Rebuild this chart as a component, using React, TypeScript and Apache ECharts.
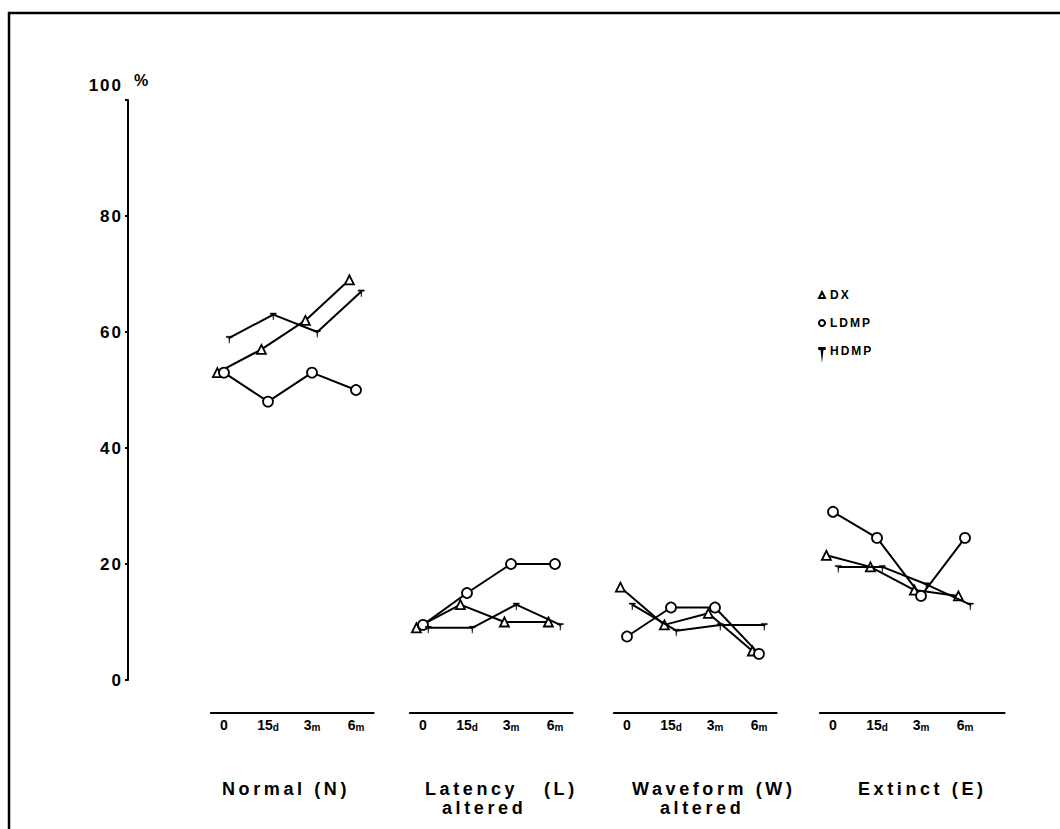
import React, { useEffect, useRef } from "react";
import * as echarts from "echarts";

// ---------- data ----------
const timeLabels = ["0", "15d", "3m", "6m"];
const yTickValues = [0, 20, 40, 60, 80, 100];
const seriesNames = ["DX", "LDMP", "HDMP"];
const panelTitles = ["Normal (N)", "Latency   (L)", "Waveform (W)", "Extinct (E)"];
const panelSubtitles = ["", "altered", "altered", ""];

// x positions in time-step units (0 = "0", 3 = "6m"); the series are slightly staggered
const dxX = [-0.15, 0.85, 1.85, 2.85];
const ldmpX = [0, 1, 2, 3];
const hdmpX = [0.12, 1.12, 2.12, 3.12];

const normalDX = [53, 57, 62, 69];
const normalLDMP = [53, 48, 53, 50];
const normalHDMP = [59, 63, 60, 67];
const latencyDX = [9, 13, 10, 10];
const latencyLDMP = [9.5, 15, 20, 20];
const latencyHDMP = [9, 9, 13, 9.5];
const waveformDX = [16, 9.5, 11.5, 5];
const waveformLDMP = [7.5, 12.5, 12.5, 4.5];
const waveformHDMP = [13, 8.5, 9.5, 9.5];
const extinctDX = [21.5, 19.5, 15.5, 14.5];
const extinctLDMP = [29, 24.5, 14.5, 24.5];
const extinctHDMP = [19.5, 19.5, 16.5, 13];

// ---------- layout ----------
const PLOT_TOP = 100;
const PLOT_H = 580;
const UNIT = 44;
const X_MIN = -0.3;
const panelOrigin = [224, 423, 627, 833];
const panelMax = [3.4, 3.4, 3.4, 3.9];
const titleLeft = [222, 425, 632, 858];
const subLeft = [0, 442, 660, 0];

const PLAIN = "'Liberation Sans', sans-serif";
const SPACED = "'Liberation Sans', Helvetica, sans-serif";
const TITLE = "'Liberation Sans', Arial, sans-serif";

const HDMP_SYMBOL = "path://M0,0 L10,0 L10,2 L6,2 L5,11 L4,2 L0,2 Z";

const panelData = [
  [normalDX, normalLDMP, normalHDMP],
  [latencyDX, latencyLDMP, latencyHDMP],
  [waveformDX, waveformLDMP, waveformHDMP],
  [extinctDX, extinctLDMP, extinctHDMP],
];
const seriesX = [dxX, ldmpX, hdmpX];

function fmtTime(label: string) {
  return label.replace(/([dm])$/, "{u|$1}");
}

export default function App() {
  const ref = useRef<HTMLDivElement>(null);

  useEffect(() => {
    if (!ref.current) return;
    const chart = echarts.init(ref.current, undefined, { renderer: "svg" });

    const grids: any[] = [];
    const xAxes: any[] = [];
    const yAxes: any[] = [];
    const series: any[] = [];

    panelOrigin.forEach((origin, i) => {
      const left = origin + X_MIN * UNIT;
      const width = (panelMax[i] - X_MIN) * UNIT;
      grids.push({ left, top: PLOT_TOP, width, height: PLOT_H });
      xAxes.push({
        type: "value",
        gridIndex: i,
        min: X_MIN,
        max: panelMax[i],
        position: "bottom",
        offset: 33,
        axisLine: { show: true, onZero: false, lineStyle: { color: "#000", width: 2 } },
        axisTick: { show: false },
        splitLine: { show: false },
        axisLabel: {
          customValues: [0, 1, 2, 3],
          formatter: (v: number) => fmtTime(timeLabels[Math.round(v)]),
          color: "#000",
          fontSize: 14,
          fontWeight: "bold",
          fontFamily: PLAIN,
          margin: 5,
          rich: {
            u: { fontSize: 10, fontWeight: "bold", fontFamily: PLAIN, color: "#000", verticalAlign: "bottom" },
          },
        },
      });
      yAxes.push({ type: "value", gridIndex: i, min: 0, max: 100, show: false });

      seriesNames.forEach((name, s) => {
        const vals = panelData[i][s];
        const xs = seriesX[s];
        const isH = s === 2;
        series.push({
          name,
          type: "line",
          xAxisIndex: i,
          yAxisIndex: i,
          data: vals.map((v, k) => [xs[k], v]),
          symbol: s === 0 ? "triangle" : s === 1 ? "circle" : HDMP_SYMBOL,
          symbolSize: s === 0 ? 9 : s === 1 ? 10 : [6, 7],
          symbolOffset: isH ? [0, 2] : [0, 0],
          showAllSymbol: true,
          lineStyle: { color: "#000", width: 2 },
          itemStyle: {
            color: isH ? "#000" : "#fff",
            borderColor: "#000",
            borderWidth: isH ? 0.5 : 1.8,
          },
          z: 3 + s,
        });
      });
    });

    // main y axis
    grids.push({ left: 128, top: PLOT_TOP, width: 20, height: PLOT_H });
    xAxes.push({ type: "value", gridIndex: 4, min: 0, max: 1, show: false });
    yAxes.push({
      type: "value",
      gridIndex: 4,
      min: yTickValues[0],
      max: yTickValues[yTickValues.length - 1],
      interval: yTickValues[1] - yTickValues[0],
      position: "left",
      axisLine: { show: true, lineStyle: { color: "#000", width: 2 } },
      axisTick: { show: true, length: 3, lineStyle: { color: "#000", width: 2 } },
      splitLine: { show: false },
      axisLabel: {
        color: "#000",
        fontSize: 17,
        fontWeight: "bold",
        fontFamily: SPACED,
        margin: 5,
        formatter: (v: number) => (v === 100 ? "{top|100}" : String(v)),
        rich: {
          top: { fontSize: 17, fontWeight: "bold", fontFamily: SPACED, color: "#000", padding: [0, 0, 30, 0] },
        },
      },
      name: "%",
      nameLocation: "end",
      nameGap: 20,
      nameTextStyle: {
        color: "#000",
        fontSize: 16,
        fontWeight: "bold",
        fontFamily: SPACED,
        align: "left",
        verticalAlign: "middle",
        padding: [0, 0, 0, 6],
      },
    });

    const graphic: any[] = [
      {
        type: "rect",
        silent: true,
        shape: { x: 9, y: 13, width: 1200, height: 1000 },
        style: { fill: "none", stroke: "#000", lineWidth: 2.5 },
      },
    ];
    panelTitles.forEach((t, i) => {
      graphic.push({
        type: "text",
        x: titleLeft[i],
        y: 789,
        style: { text: t, fill: "#000", fontSize: 18, lineHeight: 18, fontWeight: "bold", fontFamily: TITLE, align: "left", verticalAlign: "middle" },
      });
      if (panelSubtitles[i]) {
        graphic.push({
          type: "text",
          x: subLeft[i],
          y: 808,
          style: { text: panelSubtitles[i], fill: "#000", fontSize: 18, lineHeight: 18, fontWeight: "bold", fontFamily: TITLE, align: "left", verticalAlign: "middle" },
        });
      }
    });

    chart.setOption({
      animation: false,
      backgroundColor: "#fff",
      grid: grids,
      xAxis: xAxes,
      yAxis: yAxes,
      series,
      legend: {
        left: 813,
        top: 284,
        orient: "vertical",
        itemGap: 16,
        itemWidth: 6,
        itemHeight: 6,
        selectedMode: false,
        data: [
          { name: "DX", icon: "triangle" },
          { name: "LDMP", icon: "circle" },
          { name: "HDMP", icon: HDMP_SYMBOL },
        ],
        textStyle: { color: "#000", fontSize: 12, fontWeight: "bold", fontFamily: SPACED },
      },
      graphic,
    });

    return () => chart.dispose();
  }, []);

  return (
    <>
      <style>{`.chart [style*="Arial"]{letter-spacing:3.6px}.chart [style*="Helvetica"]{letter-spacing:2px}`}</style>
      <div className="chart" ref={ref} style={{ position: "absolute", left: 0, top: 0, width: 1060, height: 829 }} />
    </>
  );
}
